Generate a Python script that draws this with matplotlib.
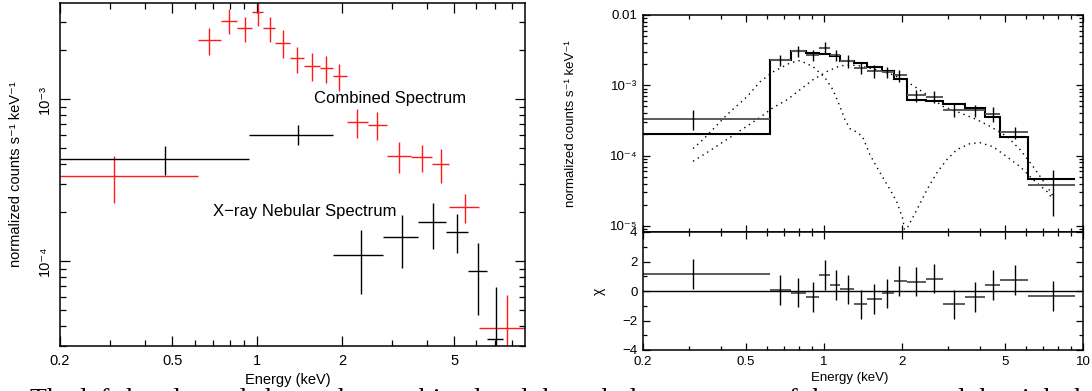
import matplotlib
matplotlib.use('Agg')
import matplotlib.pyplot as plt
from matplotlib.ticker import FixedLocator, FixedFormatter, LogLocator, NullFormatter, MultipleLocator
import numpy as np

plt.rcParams['font.family'] = ['Liberation Sans', 'DejaVu Sans']
plt.rcParams['axes.unicode_minus'] = True

# ---------------- data ----------------
# combined spectrum (red, left panel; black crosses, right panel)
comb_edges = [0.2, 0.617, 0.745, 0.849, 0.959, 1.05, 1.157, 1.308, 1.466, 1.671,
              1.858, 2.083, 2.47, 2.89, 3.51, 4.17, 4.79, 6.12, 9.3]
comb_e = [0.311, 0.675, 0.794, 0.906, 1.007, 1.11, 1.235, 1.385, 1.566, 1.754,
          1.951, 2.26, 2.66, 3.19, 3.84, 4.49, 5.46, 7.69]
comb_y = [3.35e-4, 2.31e-3, 3.03e-3, 2.74e-3, 3.44e-3, 2.74e-3, 2.22e-3, 1.79e-3, 1.60e-3,
          1.55e-3, 1.39e-3, 7.21e-4, 6.92e-4, 4.45e-4, 4.39e-4, 3.97e-4, 2.15e-4, 3.86e-5]
comb_yhi = [4.45e-4, 2.74e-3, 3.60e-3, 3.21e-3, 4.08e-3, 3.21e-3, 2.67e-3, 2.10e-3, 1.92e-3,
            1.84e-3, 1.64e-3, 8.67e-4, 8.32e-4, 5.43e-4, 5.20e-4, 4.91e-4, 2.59e-4, 6.2e-5]
comb_ylo = [2.28e-4, 1.87e-3, 2.52e-3, 2.25e-3, 2.82e-3, 2.25e-3, 1.79e-3, 1.45e-3, 1.29e-3,
            1.26e-3, 1.12e-3, 5.74e-4, 5.58e-4, 3.49e-4, 3.54e-4, 3.03e-4, 1.72e-4, 1.4e-5]

# nebular spectrum (black, left panel)
neb_lo = [0.2, 0.935, 1.858, 2.79, 3.72, 4.67, 5.59, 6.53]
neb_hi = [0.935, 1.858, 2.79, 3.72, 4.67, 5.59, 6.53, 7.45]
neb_e = [0.471, 1.40, 2.34, 3.26, 4.20, 5.11, 6.07, 7.03]
neb_y = [4.27e-4, 6.0e-4, 1.09e-4, 1.41e-4, 1.74e-4, 1.51e-4, 8.67e-5, 3.30e-5]
neb_yhi = [5.13e-4, 6.92e-4, 1.55e-4, 1.92e-4, 2.28e-4, 1.95e-4, 1.29e-4, 6.92e-5]
neb_ylo = [3.40e-4, 5.2e-4, 6.25e-5, 9.06e-5, 1.19e-4, 1.12e-4, 4.64e-5, 1.5e-5]

# folded model (step histogram, right panel)
model_vals = [2.06e-4, 2.30e-3, 3.12e-3, 2.92e-3, 2.80e-3, 2.62e-3, 2.25e-3, 2.07e-3, 1.81e-3,
              1.62e-3, 1.22e-3, 6.22e-4, 5.89e-4, 5.41e-4, 4.74e-4, 3.6e-4, 1.85e-4, 4.7e-5]

# model components (dotted)
compA_e = [0.312, 0.341, 0.422, 0.504, 0.566, 0.635, 0.740, 0.807, 0.906, 1.009, 1.083, 1.152,
           1.205, 1.26, 1.352, 1.414, 1.504, 1.644, 1.798, 1.914, 2.018, 2.07, 2.11, 2.285,
           2.50, 2.73, 2.98, 3.26, 3.66, 4.00, 4.49, 5.08, 5.71, 6.41, 7.26, 7.66]
compA_f = [1.26e-4, 1.69e-4, 3.82e-4, 6.87e-4, 1.12e-3, 1.55e-3, 2.08e-3, 2.25e-3, 1.85e-3,
           1.28e-3, 8.63e-4, 5.0e-4, 3.24e-4, 2.41e-4, 2.12e-4, 1.80e-4, 1.03e-4, 5.74e-5,
           3.30e-5, 2.15e-5, 1.24e-5, 6e-6, 9.8e-6, 1.71e-5, 3.30e-5, 5.74e-5, 8.77e-5,
           1.22e-4, 1.48e-4, 1.53e-4, 1.34e-4, 9.68e-5, 6.98e-5, 4.57e-5, 3.09e-5, 2.38e-5]
compB_e = [0.312, 0.363, 0.422, 0.486, 0.566, 0.635, 0.72, 0.807, 0.906, 1.026, 1.152, 1.26,
           1.376, 1.60, 1.846, 2.09, 2.50, 2.88, 3.35, 3.90, 4.37, 5.08, 5.71, 6.41, 7.26, 7.66]
compB_f = [8.3e-5, 1.18e-4, 1.7e-4, 2.4e-4, 3.5e-4, 4.8e-4, 6.22e-4, 8.63e-4, 1.20e-3, 1.57e-3,
           1.89e-3, 1.95e-3, 1.89e-3, 1.66e-3, 1.41e-3, 1.13e-3, 7.33e-4, 5.0e-4, 4.07e-4,
           3.24e-4, 2.61e-4, 1.88e-4, 1.22e-4, 7.05e-5, 3.67e-5, 2.65e-5]

# residuals (delta chi)
chi_vals = [1.15, 0.07, -0.11, -0.41, 1.07, 0.39, 0.11, -0.91, -0.55, -0.16, 0.68, 0.64,
            0.84, -0.91, -0.41, 0.41, 0.73, -0.34]
chi_err = [1.0] * 18

# ticks / labels
x_major = [0.2, 0.5, 1, 2, 5]
x_major_labels = ['0.2', '0.5', '1', '2', '5']
xr_major = [0.2, 0.5, 1, 2, 5, 10]
xr_major_labels = ['0.2', '0.5', '1', '2', '5', '10']
yl_major = [1e-4, 1e-3]
yl_major_labels = ['10⁻⁴', '10⁻³']
yr_major = [1e-5, 1e-4, 1e-3, 1e-2]
yr_major_labels = ['10⁻⁵', '10⁻⁴', '10⁻³', '0.01']
res_major = [-4, -2, 0, 2, 4]
res_major_labels = ['−4', '−2', '0', '2', '4']
ylabel_txt = 'normalized counts s⁻¹ keV⁻¹'
caption = 'The left-hand panel shows the combined and the nebular spectrum of the source and the right-hand'

# ---------------- figure ----------------
W, H = 1092, 391
fig = plt.figure(figsize=(W / 100, H / 100), dpi=100)


def frac(x0, y0, x1, y1):
    return [x0 / W, 1 - y1 / H, (x1 - x0) / W, (y1 - y0) / H]


def style_axes(ax, major=5, minor=3):
    for s in ax.spines.values():
        s.set_linewidth(1.1)
    ax.tick_params(which='both', direction='in', top=True, right=True, width=0.9, colors='k')
    ax.tick_params(which='major', length=major)
    ax.tick_params(which='minor', length=minor)


# Left panel
axL = fig.add_axes(frac(60, 3, 525, 346))
ce = np.array(comb_e); cy = np.array(comb_y)
ced = np.array(comb_edges)
axL.errorbar(ce, cy, xerr=[ce - ced[:-1], ced[1:] - ce],
             yerr=[cy - np.array(comb_ylo), np.array(comb_yhi) - cy],
             fmt='none', ecolor='#ff1a1a', elinewidth=1.0, capsize=0)
ne = np.array(neb_e); ny = np.array(neb_y)
axL.errorbar(ne, ny, xerr=[ne - np.array(neb_lo), np.array(neb_hi) - ne],
             yerr=[ny - np.array(neb_ylo), np.array(neb_yhi) - ny],
             fmt='none', ecolor='black', elinewidth=1.0, capsize=0)
axL.set_xscale('log'); axL.set_yscale('log')
axL.set_xlim(0.2, 8.92)
axL.set_ylim(3.0e-5, 3.92e-3)
axL.xaxis.set_major_locator(FixedLocator(x_major))
axL.xaxis.set_major_formatter(FixedFormatter(x_major_labels))
axL.xaxis.set_minor_locator(LogLocator(base=10, subs=np.arange(2, 10)))
axL.xaxis.set_minor_formatter(NullFormatter())
axL.yaxis.set_major_locator(FixedLocator(yl_major))
axL.yaxis.set_major_formatter(FixedFormatter(yl_major_labels))
axL.yaxis.set_minor_locator(LogLocator(base=10, subs=np.arange(2, 10)))
axL.yaxis.set_minor_formatter(NullFormatter())
style_axes(axL, 7, 4)
axL.tick_params(axis='x', labelsize=10.5, pad=6)
axL.tick_params(axis='y', labelsize=10.5, labelrotation=90, pad=6)
for t in axL.get_yticklabels():
    t.set_va('center')
axL.set_xlabel('Energy (keV)', fontsize=10.5)
axL.xaxis.set_label_coords(0.49, -0.08)
axL.set_ylabel(ylabel_txt, fontsize=10.5)
axL.yaxis.set_label_coords(-0.08, 0.5)
axL.text(0.546, 0.723, 'Combined Spectrum', transform=axL.transAxes, fontsize=12,
         va='center', ha='left')
axL.text(0.329, 0.391, 'X−ray Nebular Spectrum', transform=axL.transAxes, fontsize=12,
         va='center', ha='left')

# Right top panel
axR = fig.add_axes(frac(643, 15, 1083, 232))
axR.stairs(model_vals, comb_edges, baseline=None, color='black', linewidth=1.5)
axR.plot(compA_e, compA_f, color='black', linestyle=(0, (1, 3)), linewidth=1.0)
axR.plot(compB_e, compB_f, color='black', linestyle=(0, (1, 3)), linewidth=1.0)
axR.hlines(comb_y, ced[:-1], ced[1:], color='0.35', linewidth=1.4)
axR.vlines(comb_e, comb_ylo, comb_yhi, color='black', linewidth=1.0)
axR.set_xscale('log'); axR.set_yscale('log')
axR.set_xlim(0.2, 10)
axR.set_ylim(8.2e-6, 1e-2)
axR.xaxis.set_major_locator(FixedLocator(xr_major))
axR.xaxis.set_minor_locator(LogLocator(base=10, subs=np.arange(2, 10)))
axR.xaxis.set_major_formatter(NullFormatter())
axR.xaxis.set_minor_formatter(NullFormatter())
axR.yaxis.set_major_locator(FixedLocator(yr_major))
axR.yaxis.set_major_formatter(FixedFormatter(yr_major_labels))
axR.yaxis.set_minor_locator(LogLocator(base=10, subs=np.arange(2, 10)))
axR.yaxis.set_minor_formatter(NullFormatter())
style_axes(axR, 5, 3)
axR.tick_params(axis='y', labelsize=9.5, pad=4)
axR.set_ylabel(ylabel_txt, fontsize=9.5)
axR.yaxis.set_label_coords(-0.15, 0.5)

# Right residual panel
axC = fig.add_axes(frac(643, 232, 1083, 350))
axC.set_xscale('log')
axC.axhline(0, color='black', linewidth=1.0)
axC.hlines(chi_vals, ced[:-1], ced[1:], color='0.25', linewidth=1.2)
chv = np.array(chi_vals); che = np.array(chi_err)
axC.vlines(comb_e, chv - che, chv + che, color='black', linewidth=1.0)
axC.set_ylim(-4, 4)
axC.set_xlim(0.2, 10)
axC.xaxis.set_major_locator(FixedLocator(xr_major))
axC.xaxis.set_major_formatter(FixedFormatter(xr_major_labels))
axC.xaxis.set_minor_locator(LogLocator(base=10, subs=np.arange(2, 10)))
axC.xaxis.set_minor_formatter(NullFormatter())
axC.yaxis.set_major_locator(FixedLocator(res_major))
axC.yaxis.set_major_formatter(FixedFormatter(res_major_labels))
axC.yaxis.set_minor_locator(MultipleLocator(1))
style_axes(axC, 5, 3)
axC.tick_params(axis='both', labelsize=9.5, pad=4)
axC.set_xlabel('Energy (keV)', fontsize=9.5)
axC.xaxis.set_label_coords(0.47, -0.19)
axC.set_ylabel('χ', fontsize=10, rotation=90)
axC.yaxis.set_label_coords(-0.085, 0.5)

# cut-off caption line at the bottom
fig.text(30 / W, -16 / H, caption, family=['Liberation Serif', 'DejaVu Serif'],
         fontsize=20, ha='left', va='baseline')

fig.savefig('out.png', dpi=100)
